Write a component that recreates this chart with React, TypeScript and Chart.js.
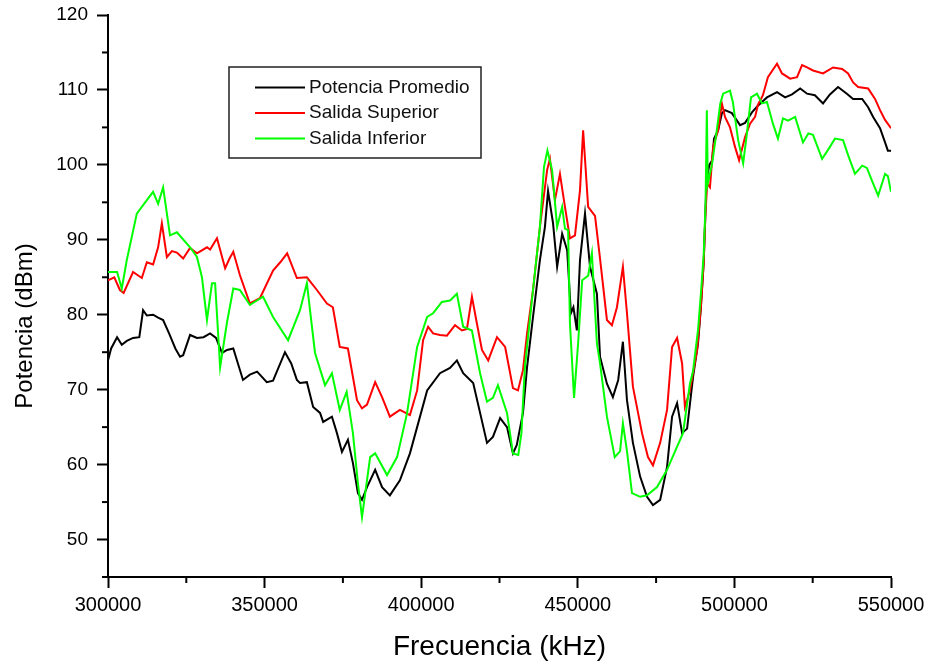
import React, { useEffect, useRef } from "react";
import { Chart, registerables } from "chart.js";

Chart.register(...registerables);

const FONT = '"Liberation Sans", Arial, sans-serif';
const X_TITLE = "Frecuencia (kHz)";
const Y_TITLE = "Potencia (dBm)";

const xTicks = [300000, 350000, 400000, 450000, 500000, 550000];
const xMinorTicks = [325000, 375000, 425000, 475000, 525000];
const yTicks = [50, 60, 70, 80, 90, 100, 110, 120];
const yMinorTicks = [45, 55, 65, 75, 85, 95, 105, 115];

const seriesLabels = ["Potencia Promedio", "Salida Superior", "Salida Inferior"];
const seriesColors = ["#000000", "#ff0000", "#00ff00"];

const promedioFreq = [
  300000, 301000, 302900, 304400, 306000, 308000, 310000, 311200, 312400, 314400,
  316000, 317600, 319500, 321500, 323000, 324000, 326200, 328400, 330500, 332600,
  334500, 336400, 338000, 340000, 343100, 345300, 347600, 350700, 352700, 356500,
  358500, 360300, 361300, 363500, 365500, 367700, 368700, 371500, 373100, 374700,
  376600, 378200, 379800, 381100, 382700, 385300, 387500, 390000, 393200, 396400,
  398700, 401900, 406000, 409200, 411400, 413400, 416600, 418800, 421000, 422900,
  425200, 427400, 429300, 430500, 432500, 433800, 435700, 437900, 439500, 440500,
  442100, 443400, 445000, 446600, 447800, 448600, 449700, 450700, 452300, 453900,
  456100, 457100, 459300, 461200, 462900, 464400, 465700, 467600, 469900, 472100,
  474000, 476300, 478500, 480100, 481700, 483300, 484900, 486800, 488400, 489300,
  490200, 490700, 491100, 492000, 492900, 493500, 494800, 496000, 497000, 499200,
  501800, 503400, 505600, 507500, 510400, 513600, 516200, 518400, 521000, 523200,
  525700, 528300, 530500, 533100, 535900, 537900, 540800, 542700, 544300, 546500,
  548100, 549000, 550000,
];
const promedioDbm = [
  73.9, 75.5, 77.0, 76.0, 76.5, 76.9, 77.0, 80.6, 79.9, 80.0,
  79.6, 79.3, 77.5, 75.5, 74.4, 74.6, 77.3, 76.9, 77.0, 77.5,
  76.9, 74.9, 75.3, 75.5, 71.3, 72.0, 72.4, 71.0, 71.2, 75.0,
  73.5, 71.3, 70.9, 71.0, 67.7, 66.9, 65.7, 66.4, 64.2, 61.7,
  63.3, 60.2, 56.2, 55.3, 57.0, 59.3, 57.0, 55.9, 57.9, 61.5,
  65.0, 69.9, 72.2, 72.9, 73.9, 72.2, 70.9, 66.9, 62.9, 63.7,
  66.2, 65.0, 61.5, 62.6, 66.9, 73.0, 79.7, 87.3, 91.7, 96.5,
  92.2, 86.4, 90.8, 88.6, 80.2, 81.0, 77.9, 87.3, 93.5, 86.4,
  82.8, 74.4, 70.8, 69.0, 71.3, 76.4, 68.6, 62.9, 58.4, 55.7,
  54.6, 55.3, 59.7, 66.4, 68.2, 64.2, 64.8, 71.7, 76.2, 81.0,
  87.0, 93.0, 97.9, 100.0, 100.6, 103.5, 104.6, 106.9, 107.3, 106.9,
  105.3, 105.6, 107.0, 107.9, 109.0, 109.7, 109.0, 109.4, 110.2, 109.5,
  109.3, 108.2, 109.4, 110.4, 109.5, 108.8, 108.8, 107.7, 106.4, 104.9,
  103.0, 101.9, 101.9,
];

const superiorFreq = [
  300000, 302000, 303800, 305000, 308000, 310800, 312400, 314400, 316000, 317200,
  318800, 320400, 322000, 324000, 326200, 328400, 331600, 332600, 334800, 337400,
  338800, 340000, 342100, 345300, 348500, 352700, 355000, 357200, 360300, 363500,
  366700, 369900, 371800, 374000, 376600, 379500, 381100, 382700, 385300, 387500,
  390000, 393200, 396400, 398700, 400600, 402200, 403800, 406000, 408200, 410800,
  413000, 414600, 416200, 417800, 419400, 421400, 424200, 426800, 429300, 430900,
  432500, 433800, 435700, 437900, 440200, 441100, 442700, 444300, 445900, 447500,
  449100, 450700, 451700, 453300, 455500, 457100, 459300, 460900, 462500, 464400,
  465700, 467600, 470500, 472400, 474000, 476300, 478500, 480100, 481700, 483300,
  484200, 485800, 488100, 489300, 490200, 490700, 491300, 492200, 493200, 494800,
  496000, 497000, 498600, 500200, 501500, 503400, 505000, 506600, 507500, 509100,
  510700, 513600, 515200, 517800, 520000, 521600, 523200, 525100, 528300, 531500,
  534400, 536300, 537900, 539500, 542700, 544900, 546500, 548100, 550000,
];
const superiorDbm = [
  84.6, 85.0, 83.3, 82.9, 85.7, 84.9, 87.0, 86.7, 89.0, 92.2,
  87.7, 88.5, 88.3, 87.5, 88.9, 88.2, 89.0, 88.7, 90.2, 86.2,
  87.5, 88.4, 85.3, 81.5, 82.2, 85.9, 87.0, 88.2, 84.9, 85.0,
  83.3, 81.5, 81.0, 75.7, 75.5, 68.6, 67.5, 68.0, 71.0, 69.0,
  66.4, 67.3, 66.6, 69.9, 76.6, 78.4, 77.5, 77.3, 77.2, 78.6,
  77.9, 78.1, 82.4, 78.8, 75.3, 73.9, 77.0, 75.7, 70.2, 69.9,
  72.6, 77.5, 83.3, 91.7, 99.3, 100.8, 95.3, 98.8, 94.4, 90.2,
  90.6, 96.6, 104.6, 94.4, 93.2, 87.5, 79.3, 78.6, 81.0, 86.4,
  80.2, 70.4, 64.2, 61.0, 59.9, 62.9, 67.3, 75.7, 76.9, 73.5,
  67.7, 69.9, 75.3, 81.0, 87.0, 93.0, 97.5, 97.0, 102.4, 104.6,
  108.2, 106.4, 105.0, 102.4, 100.6, 103.7, 105.5, 106.4, 108.0, 109.3,
  111.7, 113.5, 112.2, 111.5, 111.7, 113.3, 113.0, 112.6, 112.2, 113.0,
  112.8, 112.2, 111.0, 110.4, 110.2, 108.8, 107.3, 106.0, 104.9,
];

const inferiorFreq = [
  300000, 302900, 304400, 306000, 309200, 312400, 314400, 316000, 317600, 319800,
  322000, 326200, 328400, 330000, 331600, 333200, 334200, 335800, 338000, 340000,
  342100, 345300, 349500, 352700, 357500, 361300, 363500, 366100, 369300, 371500,
  374000, 376200, 378200, 379800, 381100, 383700, 385300, 389100, 392300, 395500,
  398700, 401900, 403800, 406600, 409200, 411400, 413400, 416200, 418800, 421000,
  422900, 424500, 427400, 429300, 431000, 432000, 433100, 435700, 437900, 439200,
  440300, 441800, 443400, 445000, 445900, 446900, 447500, 448800, 450100, 451400,
  453300, 454500, 456100, 457100, 459300, 461800, 463500, 464400, 465700, 467300,
  469900, 472100, 475300, 478500, 481700, 483600, 485800, 486800, 488400, 489300,
  490200, 490800, 491200, 491500, 492900, 494500, 495500, 496400, 498600, 499500,
  501200, 502800, 504000, 505300, 507200, 508800, 510400, 512300, 513900, 515500,
  517100, 519400, 521900, 523600, 525100, 528000, 529900, 532100, 534700, 536300,
  538500, 540800, 542300, 544300, 545900, 548100, 549000, 550000,
];
const inferiorDbm = [
  85.7, 85.7, 83.5, 87.3, 93.5, 95.3, 96.4, 94.8, 97.0, 90.6,
  91.0, 89.0, 87.7, 85.0, 79.3, 84.2, 84.2, 73.0, 79.0, 83.5,
  83.3, 81.3, 82.4, 79.7, 76.6, 80.6, 84.2, 74.9, 70.6, 72.2,
  67.3, 69.7, 64.2, 57.5, 53.0, 61.0, 61.5, 58.6, 61.0, 66.9,
  75.7, 79.7, 80.2, 81.7, 81.9, 82.8, 78.4, 77.9, 72.2, 68.4,
  68.9, 70.6, 66.9, 61.5, 61.3, 64.2, 73.0, 83.3, 91.7, 99.7,
  101.9, 99.3, 91.7, 94.4, 91.5, 91.3, 78.8, 68.9, 76.2, 84.6,
  85.2, 88.2, 76.2, 73.5, 66.4, 61.0, 61.8, 65.5, 61.8, 56.2,
  55.7, 55.9, 57.0, 59.3, 62.4, 64.2, 70.8, 72.5, 78.0, 82.8,
  88.0, 95.0, 107.3, 97.5, 100.2, 105.0, 108.2, 109.5, 109.9, 108.4,
  103.3, 100.2, 104.2, 109.0, 109.5, 108.2, 108.4, 105.5, 103.5, 106.2,
  105.9, 106.4, 103.0, 104.2, 104.0, 100.8, 102.0, 103.5, 103.3, 101.3,
  98.8, 99.9, 99.6, 97.5, 95.9, 98.8, 98.5, 96.4,
];

const toPoints = (xs: number[], ys: number[]) => xs.map((x, i) => ({ x, y: ys[i] }));

const decorPlugin = {
  id: "decor",
  afterDraw(chart: any) {
    const { ctx, chartArea, scales } = chart;
    const xs = scales.x;
    const ys = scales.y;
    ctx.save();
    ctx.strokeStyle = "#000";
    ctx.lineWidth = 2;
    xMinorTicks.forEach((v) => {
      const px = xs.getPixelForValue(v);
      ctx.beginPath();
      ctx.moveTo(px, chartArea.bottom);
      ctx.lineTo(px, chartArea.bottom + 6);
      ctx.stroke();
    });
    yMinorTicks.forEach((v) => {
      const py = ys.getPixelForValue(v);
      ctx.beginPath();
      ctx.moveTo(chartArea.left - 6, py);
      ctx.lineTo(chartArea.left, py);
      ctx.stroke();
    });

    // axis titles
    ctx.fillStyle = "#000";
    ctx.textAlign = "center";
    ctx.textBaseline = "middle";
    ctx.font = `28px ${FONT}`;
    ctx.fillText(X_TITLE, (chartArea.left + chartArea.right) / 2, 647);
    ctx.save();
    ctx.translate(25, 326);
    ctx.rotate(-Math.PI / 2);
    ctx.font = `24px ${FONT}`;
    ctx.fillText(Y_TITLE, 0, 0);
    ctx.restore();

    // legend box
    const bx = 229, by = 67, bw = 252, bh = 91;
    ctx.fillStyle = "#fff";
    ctx.fillRect(bx, by, bw, bh);
    ctx.strokeStyle = "#222";
    ctx.lineWidth = 1.5;
    ctx.strokeRect(bx, by, bw, bh);
    ctx.font = `19px ${FONT}`;
    ctx.textAlign = "left";
    ctx.textBaseline = "middle";
    chart.data.datasets.forEach((ds: any, i: number) => {
      const ry = 87.5 + i * 25.5;
      ctx.strokeStyle = ds.borderColor;
      ctx.lineWidth = 2;
      ctx.beginPath();
      ctx.moveTo(255, ry);
      ctx.lineTo(305, ry);
      ctx.stroke();
      ctx.fillStyle = "#111";
      ctx.fillText(ds.label, 309, ry);
    });
    ctx.restore();
  },
};

export default function App() {
  const canvasRef = useRef<HTMLCanvasElement | null>(null);

  useEffect(() => {
    const canvas = canvasRef.current;
    if (!canvas) return;
    const datasets = [
      { freq: promedioFreq, dbm: promedioDbm, order: 3 },
      { freq: superiorFreq, dbm: superiorDbm, order: 2 },
      { freq: inferiorFreq, dbm: inferiorDbm, order: 1 },
    ].map((s, i) => ({
      label: seriesLabels[i],
      data: toPoints(s.freq, s.dbm),
      borderColor: seriesColors[i],
      backgroundColor: seriesColors[i],
      borderWidth: 2,
      pointRadius: 0,
      pointHoverRadius: 0,
      tension: 0,
      fill: false,
      order: s.order,
    }));

    const chart = new Chart(canvas, {
      type: "line",
      data: { datasets },
      options: {
        responsive: false,
        animation: false,
        events: [],
        layout: { padding: { left: 0, right: 39, top: 15, bottom: 0 } },
        plugins: {
          legend: { display: false },
          tooltip: { enabled: false },
        },
        scales: {
          x: {
            type: "linear",
            min: 300000,
            max: 550000,
            afterBuildTicks: (scale: any) => {
              scale.ticks = xTicks.map((v) => ({ value: v }));
            },
            afterFit: (scale: any) => {
              scale.height = 88;
              scale.paddingLeft = 0;
              scale.paddingRight = 0;
            },
            ticks: {
              color: "#000",
              font: { size: 20, family: FONT },
              maxRotation: 0,
              autoSkip: false,
              padding: 5,
              callback: (v: any) => String(v),
            },
            grid: {
              display: true,
              drawOnChartArea: false,
              drawTicks: true,
              tickLength: 11,
              tickWidth: 2,
              tickColor: "#000",
            },
            border: { display: true, color: "#000", width: 2 },
          },
          y: {
            type: "linear",
            min: 45,
            max: 120,
            afterBuildTicks: (scale: any) => {
              scale.ticks = yTicks.map((v) => ({ value: v }));
            },
            afterFit: (scale: any) => {
              scale.width = 108;
              scale.paddingTop = 0;
              scale.paddingBottom = 0;
            },
            ticks: {
              color: "#000",
              font: { size: 19, family: FONT },
              padding: 9,
              autoSkip: false,
              callback: (v: any) => String(v),
            },
            grid: {
              display: true,
              drawOnChartArea: false,
              drawTicks: true,
              tickLength: 11,
              tickWidth: 2,
              tickColor: "#000",
            },
            border: { display: true, color: "#000", width: 2 },
          },
        },
      },
      plugins: [decorPlugin],
    });
    return () => chart.destroy();
  }, []);

  return (
    <div style={{ position: "fixed", left: 0, top: 0, width: 930, height: 665, background: "#fff" }}>
      <canvas ref={canvasRef} width={930} height={665} style={{ width: 930, height: 665, display: "block" }} />
    </div>
  );
}
